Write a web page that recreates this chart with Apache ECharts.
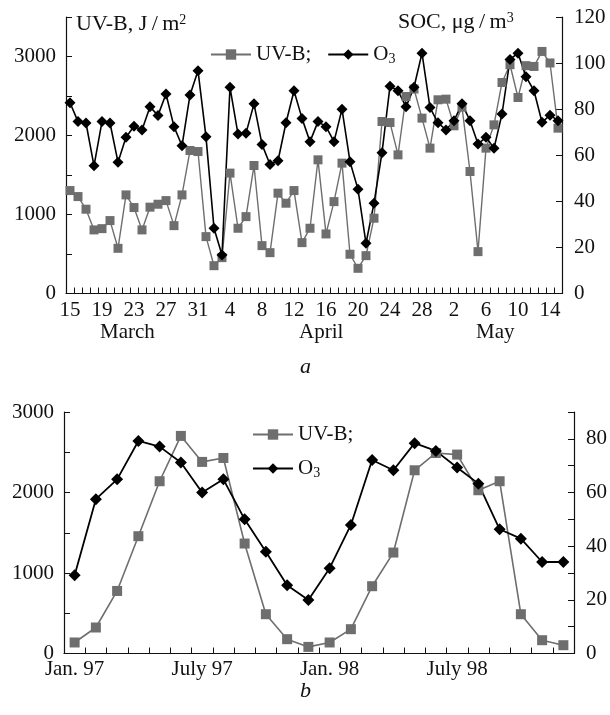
<!DOCTYPE html>
<html>
<head>
<meta charset="utf-8">
<script src="https://cdn.jsdelivr.net/npm/echarts@6.0.0/dist/echarts.min.js"></script>
<style>
  body { margin: 0; background: #fff; }
  #chart { width: 610px; height: 715px; }
</style>
</head>
<body>
<div id="chart"></div>
<script>
// panel a: daily values, 15 March .. 15 May
var days = [15, 16, 17, 18, 19, 20, 21, 22, 23, 24, 25, 26, 27, 28, 29, 30, 31,
    1, 2, 3, 4, 5, 6, 7, 8, 9, 10, 11, 12, 13, 14, 15, 16, 17, 18, 19, 20, 21, 22, 23, 24, 25, 26, 27, 28, 29, 30,
    1, 2, 3, 4, 5, 6, 7, 8, 9, 10, 11, 12, 13, 14, 15];
var uvDaily = [1303, 1227, 1067, 805, 821, 923, 572, 1248, 1088, 805, 1093, 1130, 1176, 859, 1248, 1810, 1797,
    720, 352, 454, 1524, 826, 973, 1620, 606, 517, 1270, 1143, 1303, 644, 826, 1692, 754, 1163, 1650, 497,
    319, 479, 953, 2177, 2164, 1755, 2494, 2588, 2220, 1840, 2452, 2460, 2123, 2359, 1544, 530, 1840, 2135,
    2671, 2896, 2481, 2884, 2874, 3064, 2918, 2093];
var o3Daily = [82.8, 74.6, 74, 55.4, 74.6, 74, 57, 67.8, 72.6, 71, 81, 77.3, 86.6, 72.4, 64.1, 86.2, 96.7,
    68, 28.3, 16.7, 89.5, 69.2, 69.6, 82.3, 64.7, 56, 57.6, 74.1, 88, 76, 65.9, 74.6, 72.4, 65.9, 80, 57.2,
    45.2, 21.8, 39.2, 61.1, 90, 88, 81, 89.5, 104.3, 80.7, 74.1, 71, 75, 82.3, 75, 64.9, 67.8, 63, 77.9,
    101.6, 104.3, 94.1, 88, 74.3, 77.4, 75];

// panel b: monthly values, Jan 97 .. Dec 98
var months = ['Jan. 97', 'Feb. 97', 'Mar. 97', 'Apr. 97', 'May 97', 'June 97', 'July 97', 'Aug. 97',
    'Sep. 97', 'Oct. 97', 'Nov. 97', 'Dec. 97', 'Jan. 98', 'Feb. 98', 'Mar. 98', 'Apr. 98', 'May 98',
    'June 98', 'July 98', 'Aug. 98', 'Sep. 98', 'Oct. 98', 'Nov. 98', 'Dec. 98'];
var uvMonthly = [137, 323, 777, 1457, 2140, 2703, 2380, 2429, 1366, 488, 178, 82,
    137, 302, 836, 1254, 2276, 2491, 2471, 2028, 2140, 488, 165, 103];
var o3Monthly = [29.2, 57.5, 64.9, 79.2, 77.1, 71.2, 60, 64.9, 50, 37.9, 25.4, 19.9,
    31.8, 47.9, 72.1, 68.3, 78.4, 75.5, 69.3, 63.3, 46.3, 42.8, 34.1, 34.1];

var FONT = 'Liberation Serif';
var GRAY = '#6e6e6e';
var INK = '#111';

var chart = echarts.init(document.getElementById('chart'));

var lineAxis = { lineStyle: { color: INK, width: 1.2 } };
var inTick = { show: true, inside: true, length: 6, lineStyle: { color: INK, width: 1 } };
var lbl = { color: INK, fontFamily: FONT, fontSize: 21, lineHeight: 21 };

function thousands(v) { return v % 1000 === 0 ? v : ''; }
function twenties(v) { return v % 20 === 0 ? v : ''; }

var legendRich = {
    n: { fontFamily: FONT, fontSize: 21, color: INK },
    s: { fontFamily: FONT, fontSize: 14, color: INK, padding: [9, 0, 0, 0] }
};
function legendFmt(name) {
    return name === 'O3' ? '{n|O}{s|3}' : '{n|UV-B;}';
}

var option = {
    animation: false,
    backgroundColor: '#fff',
    textStyle: { fontFamily: FONT },
    grid: [
        { left: 66, right: 48, top: 17, height: 276.5 },
        { left: 64, right: 33, top: 412, height: 241.5 }
    ],
    legend: [
        {
            data: ['UV-B', 'O3'], left: 205, top: 39, itemWidth: 40, itemHeight: 13, itemGap: 16,
            formatter: legendFmt, textStyle: { rich: legendRich },
            selectedMode: false
        },
        {
            data: ['UV-B b', 'O3 b'], left: 247, top: 419, orient: 'vertical',
            itemWidth: 40, itemHeight: 13, itemGap: 13,
            formatter: function (n) { return legendFmt(n.replace(' b', '')); },
            textStyle: { rich: legendRich }, selectedMode: false
        }
    ],
    xAxis: [
        {
            gridIndex: 0, type: 'category', data: days, boundaryGap: true,
            axisLine: lineAxis, axisTick: { show: true, inside: true, length: 6, interval: 0, lineStyle: { color: INK } },
            axisLabel: Object.assign({ interval: 3, margin: 6 }, lbl),
            splitLine: { show: false }
        },
        {
            gridIndex: 1, type: 'category', data: months, boundaryGap: true,
            axisLine: lineAxis, axisTick: { show: true, inside: true, length: 6, interval: 0, lineStyle: { color: INK } },
            axisLabel: Object.assign({ interval: 5, margin: 5 }, lbl),
            splitLine: { show: false }
        }
    ],
    yAxis: [
        {
            gridIndex: 0, type: 'value', min: 0, max: 3500, interval: 500,
            axisLine: Object.assign({ show: true }, lineAxis), axisTick: inTick,
            axisLabel: Object.assign({ formatter: thousands, margin: 10 }, lbl),
            splitLine: { show: false }
        },
        {
            gridIndex: 0, type: 'value', position: 'right', min: 0, max: 120, interval: 20,
            axisLine: Object.assign({ show: true }, lineAxis), axisTick: inTick,
            axisLabel: Object.assign({ margin: 12 }, lbl),
            splitLine: { show: false }
        },
        {
            gridIndex: 1, type: 'value', min: 0, max: 3000, interval: 500,
            axisLine: Object.assign({ show: true }, lineAxis), axisTick: inTick,
            axisLabel: Object.assign({ formatter: thousands, margin: 10 }, lbl),
            splitLine: { show: false }
        },
        {
            gridIndex: 1, type: 'value', position: 'right', min: 0, max: 90, interval: 10,
            axisLine: Object.assign({ show: true }, lineAxis), axisTick: inTick,
            axisLabel: Object.assign({ formatter: twenties, margin: 12 }, lbl),
            splitLine: { show: false }
        }
    ],
    series: [
        {
            name: 'UV-B', type: 'line', xAxisIndex: 0, yAxisIndex: 0, data: uvDaily,
            symbol: 'rect', symbolSize: 9, showAllSymbol: true,
            lineStyle: { color: GRAY, width: 1.4 }, itemStyle: { color: GRAY }
        },
        {
            name: 'O3', type: 'line', xAxisIndex: 0, yAxisIndex: 1, data: o3Daily,
            symbol: 'diamond', symbolSize: 11, showAllSymbol: true,
            lineStyle: { color: '#000', width: 1.6 }, itemStyle: { color: '#000' }
        },
        {
            name: 'UV-B b', type: 'line', xAxisIndex: 1, yAxisIndex: 2, data: uvMonthly,
            symbol: 'rect', symbolSize: 10,
            lineStyle: { color: GRAY, width: 1.6 }, itemStyle: { color: GRAY }
        },
        {
            name: 'O3 b', type: 'line', xAxisIndex: 1, yAxisIndex: 3, data: o3Monthly,
            symbol: 'diamond', symbolSize: 12,
            lineStyle: { color: '#000', width: 1.8 }, itemStyle: { color: '#000' }
        }
    ],
    graphic: [
        {
            type: 'text', left: 76, top: 13,
            style: {
                text: '{t|UV-B, J\u2009/\u2009m}{p|2}',
                rich: {
                    t: { fontFamily: FONT, fontSize: 22, fill: INK },
                    p: { fontFamily: FONT, fontSize: 14, fill: INK, padding: [0, 0, 9, 0] }
                }
            }
        },
        {
            type: 'text', left: 398, top: 11,
            style: {
                text: '{t|SOC, \u03bcg\u2009/\u2009m}{p|3}',
                rich: {
                    t: { fontFamily: FONT, fontSize: 22, fill: INK },
                    p: { fontFamily: FONT, fontSize: 14, fill: INK, padding: [0, 0, 9, 0] }
                }
            }
        },
        { type: 'text', left: 100, top: 322, style: { text: 'March', font: '21px "Liberation Serif"', fill: INK } },
        { type: 'text', left: 299, top: 322, style: { text: 'April', font: '21px "Liberation Serif"', fill: INK } },
        { type: 'text', left: 476, top: 322, style: { text: 'May', font: '21px "Liberation Serif"', fill: INK } },
        { type: 'text', left: 300, top: 356, style: { text: 'a', font: 'italic 22px "Liberation Serif"', fill: INK } },
        { type: 'text', left: 300, top: 680, style: { text: 'b', font: 'italic 22px "Liberation Serif"', fill: INK } }
    ]
};

chart.setOption(option);
</script>
</body>
</html>
